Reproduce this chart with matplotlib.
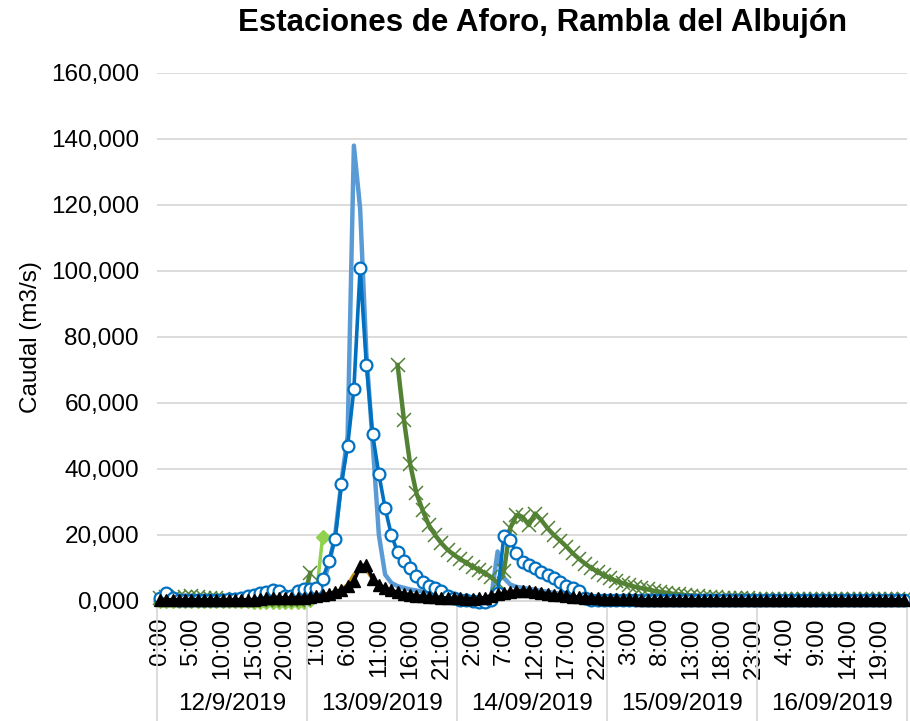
import numpy as np
import matplotlib
matplotlib.use("Agg")
import matplotlib.pyplot as plt
from matplotlib.ticker import FuncFormatter
from matplotlib.transforms import blended_transform_factory

nan = np.nan

# Category axis: hourly readings grouped by day
days = ["12/9/2019", "13/09/2019", "14/09/2019", "15/09/2019", "16/09/2019"]
hours_per_day = 24

# Flow (m3/s), one value per hour, 5 days x 24 hours
caudal_circulos = [
    1.0, 2.3, 0.8, 0.3, 0.2, 0.3, 0.2, 0.3, 0.2, 0.3, 0.4, 0.5, 0.6, 0.9, 1.4, 1.9, 2.3, 2.8, 3.2, 3.0, 1.6, 1.5, 3.0, 3.5,
    3.6, 3.8, 6.6, 12.2, 18.7, 35.4, 47.0, 64.2, 100.8, 71.5, 50.5, 38.4, 28.1, 20.0, 14.8, 12.2, 9.9, 7.6, 5.9, 4.6, 3.8, 3.0, 1.5, 0.8,
    0.4, 0.2, 0.0, -0.3, -0.3, 0.2, 2.5, 19.7, 18.5, 14.6, 11.9, 10.9, 9.9, 8.9, 7.9, 6.9, 5.9, 4.5, 3.8, 3.0, 0.8, 0.3, 0.2, 0.2,
    0.2, 0.2, 0.2, 0.2, 0.2, 0.2, 0.2, 0.2, 0.2, 0.2, 0.2, 0.2, 0.2, 0.2, 0.2, 0.2, 0.2, 0.2, 0.2, 0.2, 0.2, 0.2, 0.2, 0.2,
    0.2, 0.2, 0.2, 0.2, 0.2, 0.2, 0.2, 0.2, 0.2, 0.2, 0.2, 0.2, 0.2, 0.2, 0.2, 0.2, 0.2, 0.2, 0.2, 0.2, 0.2, 0.2, 0.2, 0.2,
]

caudal_linea = [
    0.5, 0.8, 0.6, 0.4, 0.3, 0.3, 0.3, 0.3, 0.3, 0.3, 0.4, 0.5, 0.6, 0.8, 1.0, 1.3, 1.6, 1.9, 2.1, 2.0, 1.5, 1.4, 1.8, 2.0,
    2.0, 2.5, 5.0, 11.0, 20.0, 36.0, 50.0, 138.0, 119.0, 75.0, 48.0, 20.0, 8.0, 5.5, 4.5, 4.0, 3.5, 3.2, 2.8, 2.5, 2.2, 1.8, 1.3, 0.8,
    0.4, 0.2, 0.0, -0.5, -0.5, 1.5, 15.0, 7.0, 5.0, 4.3, 4.0, 3.7, 3.4, 3.1, 2.8, 2.5, 2.2, 2.0, 1.8, 1.5, 0.8, 0.3, 0.2, 0.2,
    0.2, 0.2, 0.2, 0.2, 0.2, 0.2, 0.2, 0.2, 0.2, 0.2, 0.2, 0.2, 0.2, 0.2, 0.2, 0.2, 0.2, 0.2, 0.2, 0.2, 0.2, 0.2, 0.2, 0.2,
    0.2, 0.2, 0.2, 0.2, 0.2, 0.2, 0.2, 0.2, 0.2, 0.2, 0.2, 0.2, 0.2, 0.2, 0.2, 0.2, 0.2, 0.2, 0.2, 0.2, 0.2, 0.2, 0.2, 0.2,
]

caudal_cruces = [
    1.0, 1.2, 0.9, 1.3, 1.1, 1.4, 1.2, 1.0, 0.9, 0.8, 0.6, 0.4, 0.3, 0.3, 0.2, 0.2, 0.2, 0.2, 0.2, 0.2, 0.2, 0.2, 0.2, 0.5,
    8.5, nan, nan, nan, nan, nan, nan, nan, nan, nan, nan, nan, nan, nan, 71.5, 55.0, 41.5, 32.7, 27.5, 23.0, 20.0, 17.5, 15.5, 14.0,
    12.7, 11.6, 10.4, 9.4, 8.4, 7.2, 5.5, 9.0, 22.0, 26.0, 25.5, 23.0, 26.5, 24.5, 22.0, 20.0, 18.3, 16.5, 14.5, 12.8, 11.3, 10.0, 8.8, 7.8,
    6.9, 6.1, 5.4, 4.8, 4.3, 3.9, 3.5, 3.1, 2.8, 2.5, 2.2, 2.0, 1.8, 1.6, 1.4, 1.3, 1.2, 1.1, 1.0, 0.9, 0.9, 0.8, 0.8, 0.7,
    0.7, 0.7, 0.6, 0.6, 0.6, 0.5, 0.5, 0.5, 0.5, 0.5, 0.5, 0.5, 0.5, 0.5, 0.5, 0.5, 0.5, 0.5, 0.5, 0.5, 0.5, 0.5, 0.5, 0.5,
]

caudal_rombos = [
    0.0, 0.0, 0.0, 0.0, 0.0, 0.0, 0.0, 0.0, 0.0, 0.0, 0.0, 0.0, 0.0, 0.0, 0.0, -0.2, -0.2, -0.2, -0.2, -0.2, -0.2, -0.2, -0.2, -0.2,
    0.3, 2.0, 19.5, nan, nan, nan, nan, nan, nan, nan, nan, nan, nan, nan, nan, nan, nan, nan, nan, nan, nan, nan, nan, nan,
] + [nan] * 72

caudal_ocre = [nan] * 26 + [
    1.8, 2.2, 2.8, 3.5, 5.0, 8.0, 10.0, 9.5, 6.5, 4.5, 3.5, 2.8, 2.3, 2.0, 1.7,
] + [nan] * 79

caudal_triangulos = [
    0.4, 0.4, 0.4, 0.4, 0.4, 0.4, 0.4, 0.4, 0.4, 0.4, 0.4, 0.4, 0.4, 0.4, 0.4, 0.4, 0.6, 0.8, 1.0, 1.0, 0.9, 0.9, 1.0, 1.0,
    1.2, 1.5, 1.8, 2.2, 2.8, 3.3, 4.5, 6.0, 10.5, 11.0, 6.8, 5.0, 4.0, 3.2, 2.6, 2.2, 1.9, 1.6, 1.4, 1.2, 1.1, 1.0, 0.9, 0.8,
    0.8, 0.7, 0.7, 0.8, 1.0, 1.5, 2.0, 2.4, 2.8, 3.0, 3.1, 3.0, 2.8, 2.5, 2.2, 1.9, 1.7, 1.5, 1.3, 1.1, 1.0, 0.9, 0.8, 0.7,
    0.6, 0.6, 0.5, 0.5, 0.5, 0.4, 0.4, 0.4, 0.4, 0.4, 0.4, 0.4, 0.4, 0.4, 0.4, 0.4, 0.4, 0.4, 0.4, 0.4, 0.4, 0.4, 0.4, 0.4,
    0.4, 0.4, 0.4, 0.4, 0.4, 0.4, 0.4, 0.4, 0.4, 0.4, 0.4, 0.4, 0.4, 0.4, 0.4, 0.4, 0.4, 0.4, 0.4, 0.4, 0.4, 0.4, 0.4, 0.4,
]

plt.rcParams['font.family'] = ['Liberation Sans', 'DejaVu Sans']

W, H = 910, 721
fig = plt.figure(figsize=(W / 100, H / 100), dpi=100)
ax = fig.add_axes([157 / W, 1 - 601 / H, 750 / W, 528 / H])

n = len(days) * hours_per_day
x = np.arange(n)

grid_col = '#d9d9d9'
fs = 17.5
ax.set_xlim(-0.5, n - 0.5)
ax.set_ylim(0, 160)
ax.set_yticks(np.arange(0, 161, 20))
ax.yaxis.set_major_formatter(FuncFormatter(lambda v, p: f"{v:.3f}".replace('.', ',')))
ax.grid(axis='y', color=grid_col, lw=1.3)
ax.set_axisbelow(True)
for s in ['top', 'right', 'left']:
    ax.spines[s].set_visible(False)
ax.spines['bottom'].set_color(grid_col)
ax.spines['bottom'].set_linewidth(1.3)

# Series, back to front
ax.plot(x, caudal_rombos, color='#92d050', lw=2.5, marker='D', ms=7,
        mfc='#92d050', mec='#92d050', clip_on=False, zorder=2)
ax.plot(x, caudal_ocre, color='#bf9000', lw=2.5, clip_on=False, zorder=2)
ax.plot(x, caudal_linea, color='#5b9bd5', lw=3.2, solid_joinstyle='round',
        clip_on=False, zorder=3)
ax.plot(x, caudal_cruces, color='#548235', lw=3.2, marker='x', ms=9.5,
        mew=1.1, clip_on=False, zorder=4)
ax.plot(x, caudal_circulos, color='#0070c0', lw=2.6, marker='o', ms=8.5,
        mfc='white', mec='#0070c0', mew=1.6, clip_on=False, zorder=5)
ax.plot(x, caudal_triangulos, color='black', lw=2.6, marker='^', ms=8,
        mfc='black', mec='black', clip_on=False, zorder=6)

# Hour labels every five categories
tick_idx = x[::5]
ax.set_xticks(tick_idx)
ax.set_xticklabels([f"{i % hours_per_day}:00" for i in tick_idx], rotation=90,
                   fontsize=fs, color='#000000')
ax.tick_params(axis='x', length=0, pad=12)
ax.tick_params(axis='y', length=0, pad=13, labelsize=fs)

# Day groups below the hour labels
tr = blended_transform_factory(ax.transData, ax.transAxes)
depth = 120 / 528
for k in range(len(days) + 1):
    b = k * hours_per_day - 0.5
    ax.plot([b, b], [0, -depth], transform=tr, color=grid_col, lw=1.3,
            clip_on=False)
for k, d in enumerate(days):
    c = k * hours_per_day + (hours_per_day - 1) / 2
    ax.text(c, -103 / 528, d, transform=tr, ha='center', va='center',
            fontsize=fs)

ax.set_ylabel('Caudal (m3/s)', fontsize=fs, labelpad=6)

fig.text(543 / W, 1 - 23 / H, 'Estaciones de Aforo, Rambla del Albujón',
         ha='center', va='center', fontsize=22.5, fontweight='bold')

fig.savefig('out.png', dpi=100)
